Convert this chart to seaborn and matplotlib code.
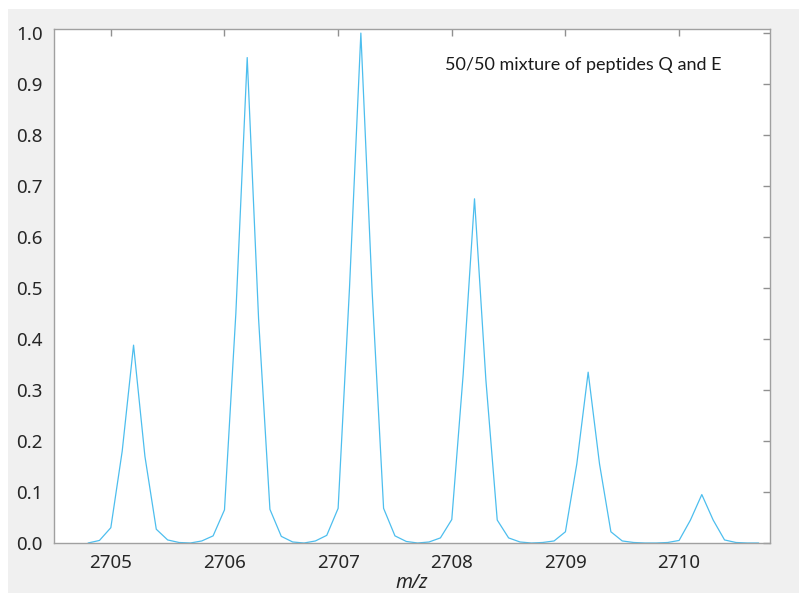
import matplotlib
matplotlib.use("Agg")
import matplotlib.pyplot as plt
import matplotlib.patches as mpatches
import seaborn as sns
import pandas as pd

mz = [round(2704.8 + 0.1 * i, 1) for i in range(60)]
intensity = [
    0.0, 0.005, 0.03, 0.18, 0.388, 0.17, 0.027, 0.006, 0.001, 0.0,
    0.004, 0.014, 0.065, 0.45, 0.952, 0.44, 0.066, 0.013, 0.002, 0.0,
    0.004, 0.015, 0.068, 0.5, 1.0, 0.49, 0.068, 0.014, 0.003, 0.0,
    0.002, 0.01, 0.046, 0.33, 0.675, 0.32, 0.045, 0.01, 0.002, 0.0,
    0.001, 0.004, 0.022, 0.155, 0.335, 0.155, 0.022, 0.004, 0.001, 0.0,
    0.0, 0.001, 0.005, 0.045, 0.095, 0.045, 0.006, 0.001, 0.0, 0.0,
]
x_ticks = [2705, 2706, 2707, 2708, 2709, 2710]
y_ticks = [0.0, 0.1, 0.2, 0.3, 0.4, 0.5, 0.6, 0.7, 0.8, 0.9, 1.0]
annotation = "50/50 mixture of peptides Q and E"
x_label = "m/z"

sns.set_style("white")
plt.rcParams["font.family"] = ["Noto Sans", "DejaVu Sans"]

fig = plt.figure(figsize=(7.99, 5.93), dpi=100)
fig.patch.set_facecolor("white")
bg = mpatches.Rectangle((8 / 799, 0), 1, (593 - 9) / 593,
                        transform=fig.transFigure,
                        facecolor="#f0f0f0", edgecolor="none", zorder=-10)
fig.patches.append(bg)
ax = fig.add_axes([54 / 799, (593 - 543) / 593, (770 - 54) / 799, (543 - 29) / 593])
ax.set_zorder(1)
ax.set_facecolor("white")

df = pd.DataFrame({"mz": mz, "intensity": intensity})
sns.lineplot(data=df, x="mz", y="intensity", ax=ax, color="#4dbeee", linewidth=0.9)

ax.set_xlim(2704.5, 2710.8)
ax.set_ylim(0, 1.008)
ax.set_xticks(x_ticks)
ax.set_xticklabels([str(t) for t in x_ticks])
ax.set_yticks(y_ticks)
ax.set_yticklabels([f"{t:.1f}" for t in y_ticks])

for s in ax.spines.values():
    s.set_visible(True)
    s.set_color("#a0a0a0")
    s.set_linewidth(1.0)
ax.tick_params(direction="in", length=5, width=1.0, color="#909090",
               top=True, right=True, labelsize=13.5, labelcolor="#262626")
ax.tick_params(axis="x", pad=8)
ax.tick_params(axis="y", pad=8)

ax.set_xlabel(x_label, fontsize=14, style="italic", color="#262626", labelpad=1)
ax.set_ylabel("")
fig.text(445 / 799, (593 - 65) / 593, annotation, fontsize=13,
         family=["Lato", "DejaVu Sans"], color="#1a1a1a", va="center", ha="left",
         zorder=5)

fig.savefig("out.png", dpi=100)
